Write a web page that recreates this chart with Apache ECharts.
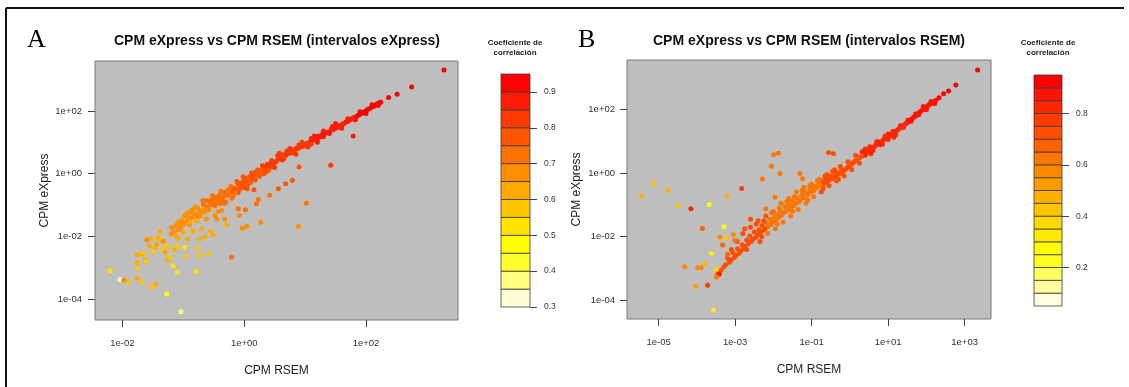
<!DOCTYPE html>
<html>
<head>
<meta charset="utf-8">
<script src="https://cdn.jsdelivr.net/npm/echarts@6/dist/echarts.min.js"></script>
<style>
html, body { margin: 0; padding: 0; background: #ffffff; }
#chart { width: 1129px; height: 387px; }
</style>
</head>
<body>
<div id="chart"></div>
<script>
// Each point: [log10 CPM RSEM, log10 CPM eXpress, correlation coefficient of its interval]
const log10CpmA = [
  [3.28,3.30,.93],[2.75,2.76,.93],[2.51,2.53,.93],[2.37,2.43,.93],
  [2.24,2.28,.92],[2.21,2.25,.92],[2.18,2.22,.92],[2.15,2.17,.92],[2.12,2.14,.92],[2.09,2.12,.92],[2.06,2.07,.92],[2.03,2.05,.92],[2.00,2.00,.92],[1.97,1.97,.92],[1.94,1.94,.92],[1.91,1.90,.92],[1.88,1.87,.92],[1.85,1.83,.92],[1.82,1.80,.92],
  [2.20,2.18,.92],[2.10,2.20,.92],[2.00,1.92,.92],[1.90,1.97,.92],[1.82,1.72,.92],
  [1.79,1.78,.87],[1.76,1.74,.87],[1.73,1.72,.87],[1.70,1.66,.87],[1.67,1.65,.87],[1.64,1.60,.87],[1.61,1.58,.87],[1.58,1.52,.87],[1.55,1.53,.87],[1.52,1.46,.87],[1.49,1.45,.87],[1.46,1.40,.87],[1.43,1.42,.87],[1.40,1.34,.87],[1.37,1.32,.87],[1.34,1.30,.87],[1.31,1.24,.87],[1.28,1.25,.87],[1.25,1.18,.87],[1.22,1.20,.87],[1.19,1.12,.87],[1.16,1.10,.87],[1.13,1.08,.87],[1.10,1.03,.87],[1.07,1.00,.87],[1.20,1.08,.87],[1.10,1.12,.87],
  [1.60,1.45,.87],[1.45,1.50,.87],[1.30,1.18,.87],[1.15,1.20,.87],[1.70,1.75,.87],[1.60,1.52,.87],[1.50,1.60,.87],[1.40,1.28,.87],[1.30,1.36,.87],[1.20,1.00,.87],
  [1.04,0.98,.82],[1.01,0.92,.82],[0.98,0.95,.82],[0.95,0.86,.82],[0.92,0.88,.82],[0.89,0.80,.82],[0.86,0.82,.82],[0.83,0.74,.82],[0.80,0.76,.82],[0.77,0.70,.82],[0.74,0.64,.82],[0.71,0.66,.82],[0.68,0.58,.82],[0.65,0.60,.82],[0.62,0.52,.82],[0.59,0.48,.82],[0.56,0.50,.82],[0.53,0.40,.82],[0.50,0.36,.82],[0.47,0.30,.82],[0.44,0.33,.82],[0.41,0.24,.82],[0.38,0.18,.82],[0.35,0.22,.82],[0.55,0.58,.82],[0.62,0.44,.82],[0.70,0.72,.82],[0.80,0.66,.82],[0.90,0.92,.82],[1.00,0.88,.82],[0.45,0.22,.82],[0.30,0.25,.82],
  [1.05,0.85,.82],[0.95,1.00,.82],[0.85,0.62,.82],[0.75,0.80,.82],[0.65,0.48,.82],[0.58,0.65,.82],[0.50,0.20,.82],[0.45,0.42,.82],[0.38,0.30,.82],[1.10,0.95,.82],
  [0.32,0.12,.78],[0.29,0.08,.78],[0.26,0.10,.78],[0.23,0.00,.78],[0.20,-0.04,.78],[0.17,0.04,.78],[0.14,-0.12,.78],[0.11,-0.18,.78],[0.08,-0.10,.78],[0.05,-0.26,.78],[0.02,-0.30,.78],[-0.01,-0.22,.78],[-0.04,-0.38,.78],[-0.07,-0.42,.78],[-0.10,-0.32,.78],[-0.13,-0.50,.78],[-0.16,-0.46,.78],[-0.19,-0.58,.78],[-0.22,-0.52,.78],[-0.31,-0.60,.78],[0.35,0.05,.78],[0.25,-0.08,.78],[0.15,-0.02,.78],[0.05,-0.15,.78],[-0.05,-0.30,.78],[0.40,0.10,.78],[0.10,-0.28,.78],[0.00,-0.45,.78],[-0.10,-0.60,.78],
  [0.32,0.00,.78],[0.22,0.12,.78],[0.18,-0.20,.78],[0.12,0.02,.78],[0.05,-0.38,.78],[-0.02,-0.10,.78],[-0.08,-0.50,.78],[-0.12,-0.25,.78],
  [-0.25,-0.62,.73],[-0.28,-0.70,.73],[-0.34,-0.72,.73],[-0.37,-0.78,.73],[-0.40,-0.66,.73],[-0.43,-0.85,.73],[-0.46,-0.90,.73],[-0.49,-0.80,.73],[-0.52,-0.95,.73],[-0.55,-1.00,.73],[-0.58,-0.88,.73],[-0.61,-1.05,.73],[-0.67,-0.98,.73],[-0.15,-0.60,.73],[-0.25,-0.50,.73],[-0.35,-0.85,.73],[-0.45,-0.75,.73],[-0.55,-0.85,.73],[-0.40,-0.95,.73],[-0.30,-0.90,.73],[-0.20,-0.78,.73],
  [-0.18,-0.70,.73],[-0.22,-0.40,.73],[-0.28,-0.55,.73],[-0.33,-0.95,.73],[-0.38,-0.55,.73],[-0.48,-1.02,.73],[-0.52,-0.70,.73],[-0.68,-0.85,.73],
  [-0.64,-1.12,.68],[-0.70,-1.18,.68],[-0.73,-1.25,.68],[-0.76,-1.10,.68],[-0.79,-1.30,.68],[-0.82,-1.36,.68],[-0.85,-1.25,.68],[-0.88,-1.42,.68],[-0.91,-1.50,.68],[-0.94,-1.38,.68],[-0.97,-1.55,.68],[-1.00,-1.62,.68],[-1.03,-1.50,.68],[-1.06,-1.70,.68],[-1.09,-1.78,.68],[-1.12,-1.65,.68],[-1.15,-1.85,.68],[-1.20,-1.92,.68],[-0.65,-1.20,.68],[-0.75,-1.35,.68],[-0.85,-1.15,.68],[-0.95,-1.28,.68],
  [-0.58,-1.15,.68],[-0.72,-1.35,.68],[-0.80,-1.05,.68],[-0.90,-1.62,.68],[-0.98,-1.35,.68],[-1.08,-1.55,.68],
  [1.79,1.20,.87],[1.42,0.27,.82],[0.90,0.21,.78],[0.79,-0.21,.78],[0.68,-0.32,.78],[0.56,-0.48,.78],[0.42,-0.69,.73],[1.02,-0.94,.73],[0.23,-0.82,.73],[0.20,-0.96,.73],[0.16,-0.51,.78],[0.05,-0.48,.78],[0.27,-1.55,.68],[0.89,-1.67,.68],[0.04,-1.67,.68],[-0.03,-1.74,.68],[-0.10,-1.12,.73],[0.02,-1.15,.73],[-0.08,-1.33,.68],[-0.21,-2.66,.72],
  [-2.20,-3.09,.52],[-2.04,-3.38,.32],[-1.98,-3.39,.68],[-1.90,-3.46,.57],[-1.76,-3.33,.60],[-1.68,-3.43,.57],[-1.53,-3.60,.57],[-1.45,-3.52,.61],[-1.27,-3.83,.47],[-1.04,-4.40,.37],
  [-1.76,-2.84,.62],[-1.75,-3.00,.57],[-1.76,-2.59,.63],[-1.68,-2.56,.62],[-1.65,-2.52,.57],[-1.63,-2.75,.62],[-1.61,-2.79,.57],[-1.60,-2.11,.68],[-1.56,-2.31,.62],[-1.53,-2.06,.62],[-1.49,-2.50,.57],[-1.46,-2.34,.62],[-1.44,-2.24,.62],[-1.41,-2.05,.62],[-1.38,-1.84,.62],[-1.35,-2.10,.57],[-1.33,-2.15,.68],[-1.34,-2.40,.57],[-1.30,-2.50,.62],[-1.27,-2.29,.57],[-1.26,-2.74,.62],[-1.22,-2.66,.57],[-1.19,-1.71,.68],[-1.17,-2.93,.52],[-1.15,-2.42,.62],[-1.12,-1.97,.62],[-1.11,-2.32,.57],[-1.10,-3.14,.52],[-1.08,-2.06,.62],[-1.05,-1.76,.68],[-1.03,-1.65,.68],[-1.00,-1.86,.62],[-0.98,-2.34,.52],[-0.96,-2.64,.57],[-0.93,-2.08,.62],[-0.90,-1.22,.68],[-0.89,-1.55,.62],[-0.86,-1.83,.57],[-0.84,-1.81,.62],[-0.79,-3.12,.52],[-0.78,-1.51,.62],[-0.77,-2.40,.57],[-0.74,-2.61,.57],[-0.73,-2.08,.62],[-0.70,-1.76,.62],[-0.64,-2.02,.62],[-0.62,-1.44,.68],[-0.59,-2.56,.57],[-0.56,-1.83,.62],[-0.51,-1.95,.62],[-0.48,-1.33,.68],[-0.45,-1.44,.68],[-0.43,-1.20,.68],[-0.37,-1.17,.68],[-0.32,-1.44,.68],[-0.29,-1.63,.62],[-0.62,-0.85,.73],[-0.64,-1.17,.68]
];

const log10CpmB = [
  [3.34,3.23,.92],[2.77,2.76,.92],[2.58,2.57,.92],[2.45,2.48,.92],[2.33,2.36,.92],
  [2.25,2.28,.88],[2.20,2.24,.88],[2.15,2.20,.88],[2.10,2.16,.88],[2.06,2.13,.88],[2.02,2.08,.88],[1.98,2.06,.88],[1.94,2.02,.88],[1.90,1.98,.88],[1.86,1.94,.88],[1.82,1.90,.88],[1.78,1.86,.88],[1.74,1.80,.88],[1.70,1.78,.88],[1.66,1.74,.88],[1.62,1.70,.88],[1.58,1.66,.88],[1.54,1.62,.88],[1.50,1.58,.88],
  [2.22,2.18,.88],[2.12,2.24,.88],[2.00,1.98,.88],[1.92,2.08,.88],[1.80,1.82,.88],[1.72,1.85,.88],[1.60,1.62,.88],[1.52,1.65,.88],
  [1.46,1.54,.82],[1.42,1.50,.82],[1.38,1.48,.82],[1.34,1.42,.82],[1.30,1.40,.82],[1.26,1.36,.82],[1.22,1.32,.82],[1.18,1.30,.82],[1.14,1.24,.82],[1.10,1.22,.82],[1.06,1.18,.82],[1.02,1.16,.82],[0.98,1.12,.82],[0.94,1.08,.82],[0.90,1.06,.82],[0.86,1.02,.82],[0.82,0.98,.82],[0.78,0.96,.82],[0.74,0.92,.82],[0.70,0.88,.82],[0.66,0.86,.82],[0.62,0.80,.82],[0.58,0.78,.82],[0.54,0.76,.82],[0.50,0.70,.82],[0.46,0.68,.82],[0.42,0.62,.82],[0.38,0.60,.82],[0.34,0.56,.82],
  [0.40,0.75,.82],[0.55,0.60,.82],[0.70,0.98,.82],[0.85,0.90,.82],[1.00,1.22,.82],[1.15,1.12,.82],
  [1.40,1.42,.82],[1.32,1.48,.82],[1.20,1.20,.82],[1.12,1.30,.82],[1.00,1.05,.82],[0.92,1.15,.82],[0.80,0.88,.82],[0.72,0.98,.82],[0.60,0.70,.82],[0.52,0.82,.82],[0.40,0.55,.82],[0.32,0.66,.82],
  [0.30,0.52,.72],[0.26,0.48,.72],[0.22,0.46,.72],[0.18,0.40,.72],[0.14,0.38,.72],[0.10,0.34,.72],[0.06,0.30,.72],[0.02,0.24,.72],[-0.02,0.22,.72],[-0.06,0.18,.72],[-0.10,0.12,.72],[-0.14,0.10,.72],[-0.18,0.04,.72],[-0.22,0.08,.72],[-0.26,-0.02,.72],[-0.30,0.00,.72],[-0.34,-0.08,.72],[-0.38,-0.04,.72],[-0.42,-0.12,.72],[-0.46,-0.18,.72],[-0.50,-0.10,.72],[-0.54,-0.22,.72],[-0.58,-0.28,.72],[-0.62,-0.16,.72],[-0.66,-0.30,.72],[-0.70,-0.36,.72],[-0.74,-0.24,.72],[-0.40,0.10,.72],[-0.60,-0.05,.72],[-0.70,-0.50,.72],[-0.30,-0.20,.72],
  [-0.75,-0.60,.72],[-0.65,-0.10,.72],[-0.55,-0.40,.72],[-0.45,0.05,.72],[-0.35,-0.25,.72],[-0.25,0.20,.72],[-0.15,-0.10,.72],[-0.05,0.35,.72],[0.05,0.10,.72],[0.15,0.55,.72],[0.25,0.30,.72],
  [-0.78,-0.40,.63],[-0.82,-0.34,.63],[-0.86,-0.46,.63],[-0.90,-0.42,.63],[-0.94,-0.55,.63],[-0.98,-0.48,.63],[-1.02,-0.60,.63],[-1.06,-0.52,.63],[-1.10,-0.66,.63],[-1.14,-0.72,.63],[-1.18,-0.60,.63],[-1.22,-0.78,.63],[-1.26,-0.70,.63],[-1.30,-0.85,.63],[-1.34,-0.92,.63],[-1.38,-0.78,.63],[-1.42,-0.95,.63],[-1.46,-1.02,.63],[-1.50,-0.88,.63],[-1.54,-1.08,.63],[-1.58,-1.00,.63],[-1.62,-1.15,.63],[-1.66,-1.20,.63],[-1.70,-1.05,.63],[-1.74,-1.25,.63],[-1.78,-1.32,.63],[-1.82,-1.18,.63],[-1.86,-1.40,.63],[-1.90,-1.30,.63],[-1.94,-1.48,.63],[-1.98,-1.38,.63],[-2.02,-1.55,.63],[-2.06,-1.62,.63],[-2.10,-1.45,.63],[-2.14,-1.68,.63],[-2.18,-1.58,.63],[-0.80,-0.20,.63],[-1.00,-0.35,.63],[-1.20,-0.45,.63],[-1.40,-0.60,.63],[-1.60,-0.80,.63],[-1.80,-0.95,.63],[-2.00,-1.20,.63],[-1.10,-0.85,.63],[-1.50,-1.20,.63],[-1.90,-1.60,.63],
  [-2.15,-1.90,.63],[-2.05,-1.25,.63],[-1.95,-1.75,.63],[-1.85,-1.10,.63],[-1.75,-1.55,.63],[-1.65,-0.90,.63],[-1.55,-1.35,.63],[-1.45,-0.75,.63],[-1.35,-1.15,.63],[-1.25,-0.55,.63],[-1.15,-0.95,.63],[-1.05,-0.40,.63],[-0.95,-0.75,.63],[-0.85,-0.25,.63],
  [-2.22,-1.75,.72],[-2.26,-1.80,.72],[-2.30,-1.65,.72],[-2.34,-1.88,.72],[-2.38,-1.78,.72],[-2.42,-1.95,.72],[-2.46,-2.02,.72],[-2.50,-1.85,.72],[-2.54,-2.08,.72],[-2.58,-2.15,.72],[-2.62,-1.98,.72],[-2.66,-2.22,.72],[-2.70,-2.10,.72],[-2.74,-2.30,.72],[-2.78,-2.38,.72],[-2.82,-2.25,.72],[-2.86,-2.45,.72],[-2.90,-2.52,.72],[-2.94,-2.38,.72],[-2.98,-2.58,.72],[-3.02,-2.65,.72],[-3.06,-2.50,.72],[-3.10,-2.72,.72],[-3.15,-2.80,.72],[-3.20,-2.68,.72],[-3.25,-2.88,.72],[-3.30,-2.95,.72],[-3.38,-3.05,.72],[-3.45,-3.15,.72],[-2.20,-1.35,.72],[-2.40,-1.50,.72],[-2.60,-1.70,.72],[-2.80,-1.90,.72],[-2.30,-2.00,.72],[-2.70,-2.40,.72],
  [-2.45,-1.60,.72],[-2.35,-2.15,.72],[-2.25,-1.50,.72],[-3.10,-2.40,.72],[-2.95,-2.15,.72],[-3.20,-2.55,.65],[-2.60,-1.45,.72],[-2.75,-1.75,.72],
  [-0.56,0.64,.72],[-0.43,0.60,.72],[-2.00,0.57,.62],[-1.87,0.62,.62],[-2.05,0.21,.62],[-1.83,-0.02,.62],[-2.29,-0.19,.62],[-2.83,-0.49,.75],[-1.96,-0.76,.62],[-2.20,-1.12,.62],[-1.31,-0.02,.63],[-1.24,-0.18,.63],
  [-5.45,-0.73,.47],[-5.14,-0.33,.40],[-4.77,-0.54,.47],[-4.49,-1.04,.40],[-4.16,-1.12,.82],[-3.68,-0.99,.27],[-3.21,-0.73,.45],[-3.86,-1.74,.68],[-3.29,-1.69,.22],[-3.40,-2.01,.55],[-3.24,-2.05,.40],[-3.33,-2.26,.65],[-3.05,-1.93,.57],[-3.01,-2.11,.62],[-3.62,-2.53,.33],[-3.79,-2.85,.47],[-3.98,-2.97,.57],[-3.89,-2.97,.57],[-4.32,-2.94,.57],[-3.49,-3.02,.35],[-3.42,-3.18,.87],[-3.49,-3.26,.62],[-3.72,-3.52,.75],[-4.03,-3.55,.50],[-3.57,-4.30,.33]
];

// Correlation-coefficient bins (edges) and their heat colours, low to high
const edgesA = [0.30,0.35,0.40,0.45,0.50,0.55,0.60,0.65,0.70,0.75,0.80,0.85,0.90,0.95];
const colorsA = ['#FFFFD5','#FFFF80','#FFFF2B','#FFFF00','#FFE300','#FFC600','#FFAA00','#FF8E00','#FF7100','#FF5500','#FF3900','#FF1C00','#FF0000'];
const edgesB = [0.05,0.10,0.15,0.20,0.25,0.30,0.35,0.40,0.45,0.50,0.55,0.60,0.65,0.70,0.75,0.80,0.85,0.90,0.95];
const colorsB = ['#FFFFDF','#FFFF9F','#FFFF60','#FFFF20','#FFFF00','#FFEB00','#FFD800','#FFC400','#FFB000','#FF9D00','#FF8900','#FF7600','#FF6200','#FF4E00','#FF3B00','#FF2700','#FF1400','#FF0000'];

// Axis ticks (log10 units) and legend ticks
const xTicksA = [-2, 0, 2];
const yTicksA = [-4, -2, 0, 2];
const xTicksB = [-5, -3, -1, 1, 3];
const yTicksB = [-4, -2, 0, 2];
const legendTicksA = [0.3, 0.4, 0.5, 0.6, 0.7, 0.8, 0.9];
const legendTicksB = [0.2, 0.4, 0.6, 0.8];

const FONT = '"Liberation Sans", Arial, Helvetica, sans-serif';

function expLabel(v) {
  const n = Math.round(v);
  const a = Math.abs(n);
  return '1e' + (n < 0 ? '-' : '+') + (a < 10 ? '0' : '') + a;
}

function bins(edges) {
  const out = [];
  for (let i = 0; i < edges.length - 1; i++) out.push([edges[i], edges[i + 1], i]);
  return out;
}

function pieces(edges, colors) {
  return colors.map((c, i) => i === colors.length - 1
    ? { gte: edges[i], lte: edges[i + 1], color: c }
    : { gte: edges[i], lt: edges[i + 1], color: c });
}

function logAxis(min, max, ticks, name, gap, labelMargin) {
  return {
    type: 'value', min: min, max: max,
    name: name, nameLocation: 'middle', nameGap: gap,
    nameTextStyle: { fontFamily: FONT, fontSize: 12, color: '#222' },
    axisLine: { show: false, onZero: false },
    splitLine: { show: false },
    axisTick: { show: true, inside: false, length: 7, customValues: ticks, lineStyle: { color: '#444', width: 1 } },
    axisLabel: { customValues: ticks, formatter: expLabel, margin: labelMargin,
      fontFamily: FONT, fontSize: 9.5, color: '#333' }
  };
}

function legendAxis(min, max, ticks) {
  return {
    type: 'value', min: min, max: max, position: 'right',
    axisLine: { show: false, onZero: false },
    splitLine: { show: false },
    axisTick: { show: true, inside: false, length: 7, customValues: ticks, lineStyle: { color: '#444', width: 1 } },
    axisLabel: { customValues: ticks, formatter: v => v.toFixed(1), margin: 14,
      fontFamily: FONT, fontSize: 8.5, color: '#333' }
  };
}

function legendSeries(axisIdx, edges, colors) {
  return {
    type: 'custom', xAxisIndex: axisIdx, yAxisIndex: axisIdx,
    data: bins(edges), silent: true,
    renderItem: function (params, api) {
      const lo = api.value(0), hi = api.value(1), idx = api.value(2);
      const a = api.coord([0, lo]), b = api.coord([1, hi]);
      return {
        type: 'rect',
        shape: { x: a[0], y: b[1], width: b[0] - a[0], height: a[1] - b[1] },
        style: { fill: colors[idx], stroke: '#3a3a3a', lineWidth: 0.8 }
      };
    }
  };
}

const chart = echarts.init(document.getElementById('chart'), null, { renderer: 'canvas' });

const titleStyle = { fontFamily: FONT, fontSize: 14, fontWeight: 'bold', fill: '#111', align: 'center', verticalAlign: 'middle' };
const letterStyle = { fontFamily: '"Liberation Serif", "Times New Roman", serif', fontSize: 26, fill: '#000', align: 'left', verticalAlign: 'middle' };
const legTitleStyle = { fontFamily: FONT, fontSize: 8, fontWeight: 'bold', fill: '#222', align: 'center', verticalAlign: 'middle', lineHeight: 10 };

chart.setOption({
  backgroundColor: '#ffffff',
  animation: false,
  grid: [
    { left: 95, top: 61, width: 363, height: 259, show: true, backgroundColor: '#BEBEBE', borderColor: '#7a7a7a', borderWidth: 1 },
    { left: 627, top: 60, width: 364, height: 259, show: true, backgroundColor: '#BEBEBE', borderColor: '#7a7a7a', borderWidth: 1 },
    { left: 501, top: 74, width: 29, height: 233 },
    { left: 1034, top: 75, width: 28, height: 231 }
  ],
  xAxis: [
    Object.assign(logAxis(-2.45, 3.51, xTicksA, 'CPM RSEM', 45, 18), { gridIndex: 0, position: 'bottom' }),
    Object.assign(logAxis(-5.83, 3.69, xTicksB, 'CPM RSEM', 45, 18), { gridIndex: 1, position: 'bottom' }),
    { gridIndex: 2, type: 'value', min: 0, max: 1, show: false },
    { gridIndex: 3, type: 'value', min: 0, max: 1, show: false }
  ],
  yAxis: [
    Object.assign(logAxis(-4.66, 3.59, yTicksA, 'CPM eXpress', 44, 13), { gridIndex: 0, position: 'left' }),
    Object.assign(logAxis(-4.58, 3.54, yTicksB, 'CPM eXpress', 44, 12), { gridIndex: 1, position: 'left' }),
    Object.assign(legendAxis(0.30, 0.95, legendTicksA), { gridIndex: 2 }),
    Object.assign(legendAxis(0.05, 0.95, legendTicksB), { gridIndex: 3 })
  ],
  visualMap: [
    { type: 'piecewise', show: false, seriesIndex: 0, dimension: 2, pieces: pieces(edgesA, colorsA) },
    { type: 'piecewise', show: false, seriesIndex: 1, dimension: 2, pieces: pieces(edgesB, colorsB) }
  ],
  series: [
    { type: 'scatter', xAxisIndex: 0, yAxisIndex: 0, data: log10CpmA, symbolSize: 5, itemStyle: { opacity: 1 } },
    { type: 'scatter', xAxisIndex: 1, yAxisIndex: 1, data: log10CpmB, symbolSize: 5, itemStyle: { opacity: 1 } },
    legendSeries(2, edgesA, colorsA),
    legendSeries(3, edgesB, colorsB)
  ],
  graphic: [
    { type: 'line', shape: { x1: 6, y1: 8, x2: 1124, y2: 8 }, style: { stroke: '#111', lineWidth: 2 } },
    { type: 'line', shape: { x1: 6, y1: 8, x2: 6, y2: 387 }, style: { stroke: '#111', lineWidth: 2 } },
    { type: 'text', x: 27, y: 40, style: Object.assign({ text: 'A' }, letterStyle) },
    { type: 'text', x: 578, y: 40, style: Object.assign({ text: 'B' }, letterStyle) },
    { type: 'text', x: 277, y: 41, style: Object.assign({ text: 'CPM eXpress vs CPM RSEM (intervalos eXpress)' }, titleStyle) },
    { type: 'text', x: 809, y: 41, style: Object.assign({ text: 'CPM eXpress vs CPM RSEM (intervalos RSEM)' }, titleStyle) },
    { type: 'text', x: 515, y: 48, style: Object.assign({ text: 'Coeficiente de\ncorrelación' }, legTitleStyle) },
    { type: 'text', x: 1048, y: 48, style: Object.assign({ text: 'Coeficiente de\ncorrelación' }, legTitleStyle) }
  ]
});
</script>
</body>
</html>
